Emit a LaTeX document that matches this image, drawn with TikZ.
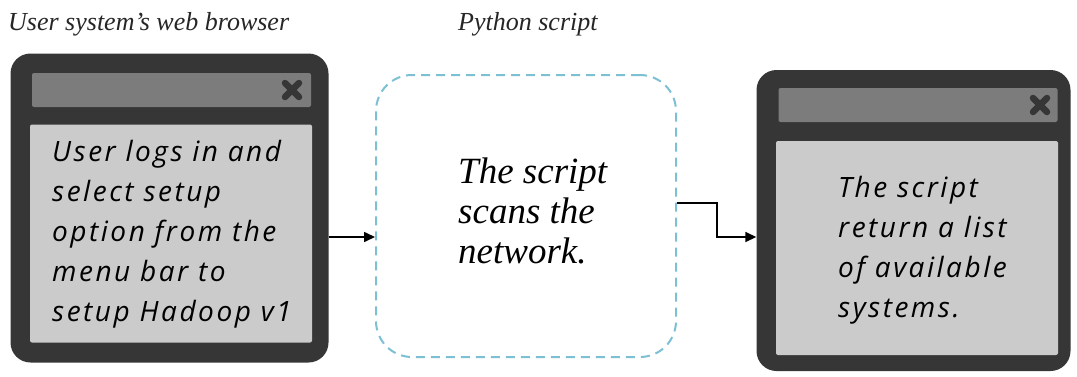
\documentclass[tikz,border=0pt]{standalone}
\usepackage{fontspec}
\setmainfont{Liberation Serif}
\newfontfamily\handfont[LetterSpace=9]{Open Sans}
\usetikzlibrary{arrows.meta}
\definecolor{frame}{HTML}{363636}
\definecolor{barcol}{HTML}{7C7C7C}
\definecolor{panecol}{HTML}{CBCBCB}
\definecolor{dashcol}{HTML}{7DBFD3}
\tikzset{
  x=1pt, y=-1pt,
  win/.style={fill=frame, rounded corners=20pt, inner sep=0pt},
  titlebar/.style={fill=barcol, rounded corners=2pt, inner sep=0pt},
  pane/.style={fill=panecol, rounded corners=2pt, inner sep=0pt},
  hand/.style={font=\handfont\itshape\fontsize{28}{40}\selectfont, align=left, inner sep=0pt, anchor=north west},
  caption/.style={font=\itshape\fontsize{26}{30}\selectfont, inner sep=0pt, anchor=base west, text=black!85},
  scriptbox/.style={draw=dashcol, line width=2pt, dash pattern=on 9pt off 6pt, rounded corners=36pt, inner sep=0pt},
  arr/.style={draw=black, line width=1.6pt, -{Triangle[length=11pt,width=10pt]}},
  closex/.pic={
    \draw[frame, line width=6.5pt, line cap=round] (-7,-7) -- (7,7);
    \draw[frame, line width=6.5pt, line cap=round] (-7,7) -- (7,-7);
  }
}
\begin{document}
\begin{tikzpicture}
\useasboundingbox (0,0) rectangle (1077,376);

% captions
\node[caption] (cap1) at (8,30) {User system's web browser};
\node[caption] (cap2) at (458,30) {Python script};

% left browser window
\node[win, minimum width=318pt, minimum height=309pt] (lw) at (169.5,208) {};
\node[titlebar, minimum width=279pt, minimum height=34pt] (lwbar) at (171.5,90) {};
\pic at (292,90) {closex};
\node[pane, minimum width=282pt, minimum height=218pt] (lwpane) at (171,233.5) {};
\node[hand] (lwtext) at (52,140) {User logs in and\\select setup\\option from the\\menu bar to\\setup Hadoop v1};

% python script box
\node[scriptbox, minimum width=300pt, minimum height=282pt] (mid) at (526,216) {};
\node[font=\itshape\fontsize{37}{40}\selectfont, align=left, inner sep=0pt, anchor=north west] (midtext) at (458,158) {The script\\scans the\\network.};

% right browser window
\node[win, minimum width=314pt, minimum height=301pt] (rw) at (913.5,220.5) {};
\node[titlebar, minimum width=279pt, minimum height=34pt] (rwbar) at (918,105) {};
\pic at (1040,105) {closex};
\node[pane, minimum width=282pt, minimum height=214pt] (rwpane) at (917,248) {};
\node[hand] (rwtext) at (838,176) {The script\\return a list\\of available\\systems.};

% connectors
\coordinate (lvl) at (0,237);
\coordinate (out) at (0,203);
\draw[arr] (lw.east |- lvl) -- (mid.west |- lvl);
\draw[arr] (mid.east |- out) -- ++(40,0) |- (rw.west |- lvl);
\end{tikzpicture}
\end{document}
